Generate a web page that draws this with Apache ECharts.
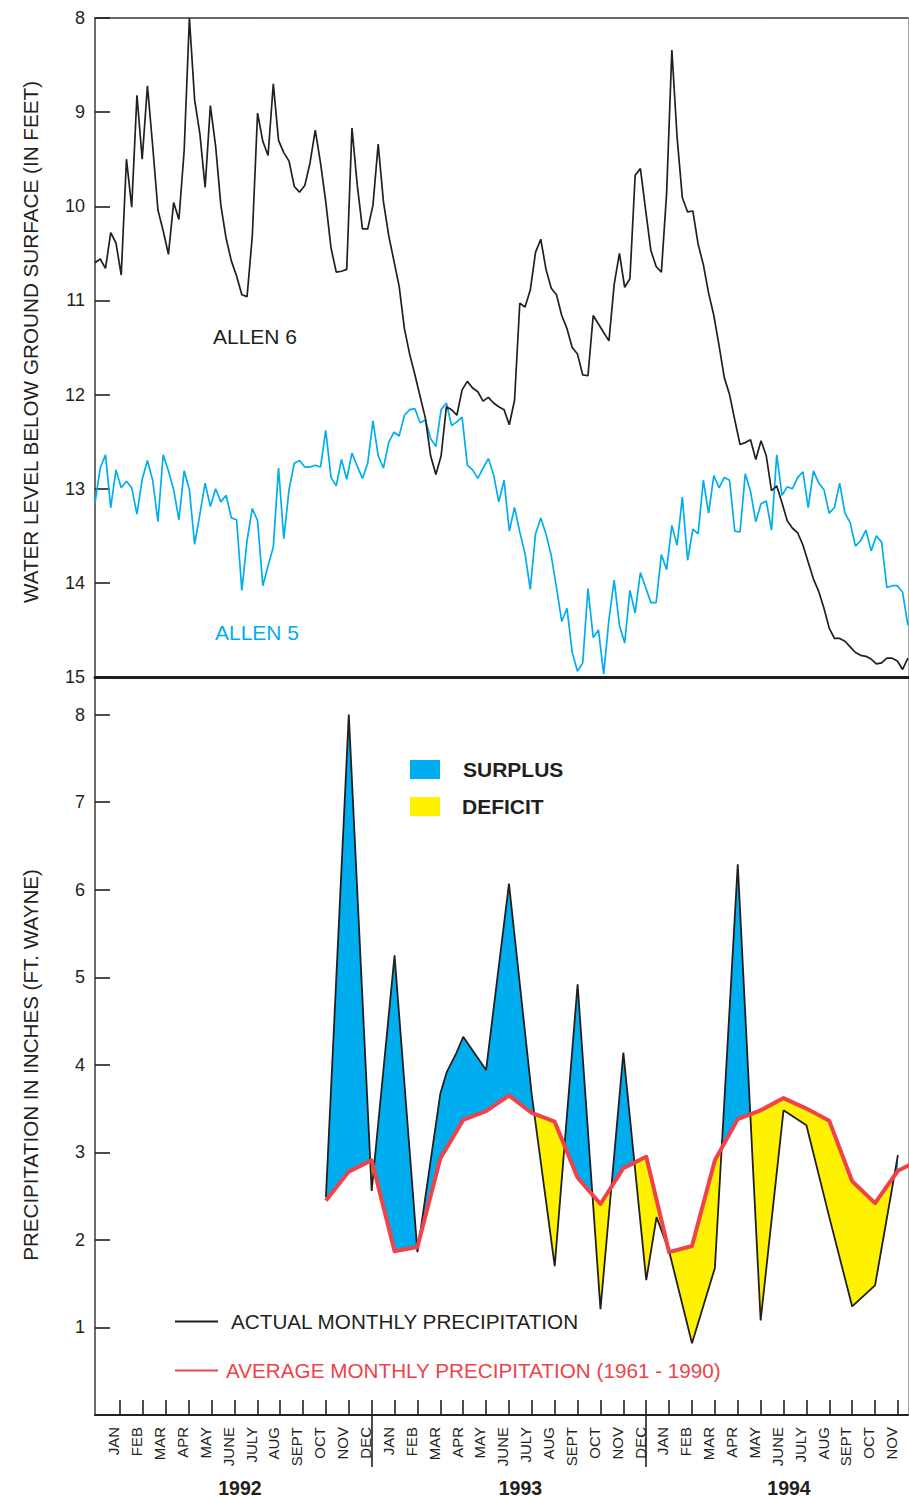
<!DOCTYPE html>
<html>
<head>
<meta charset="utf-8">
<title>Allen 5 / Allen 6 water levels and Ft. Wayne precipitation, 1992-1994</title>
<script src="https://cdn.jsdelivr.net/npm/echarts@6/dist/echarts.min.js"></script>
<style>
  html, body { margin: 0; padding: 0; background: #ffffff; }
  #chart { width: 909px; height: 1498px; }
</style>
</head>
<body>
<div id="chart"></div>
<script>
// ---- Weekly water-level readings (feet below ground surface) ----
// x is measured in months from January 1992 (0 = JAN 1992)
const WEEK_START = -1.092;      // first reading, early December 1991
const WEEK_STEP = 0.2292;       // one week in months

const allen6Level = [
  10.60,10.56,10.66,10.28,10.39,10.73,9.50,10.01,8.82,9.50,
  8.72,9.36,10.04,10.26,10.51,9.96,10.14,9.41,8.00,8.87,
  9.23,9.80,8.93,9.36,9.99,10.34,10.58,10.74,10.94,10.96,
  10.31,9.01,9.31,9.46,8.70,9.30,9.43,9.52,9.79,9.85,
  9.78,9.54,9.19,9.54,9.95,10.44,10.70,10.69,10.67,9.17,
  9.77,10.24,10.24,9.99,9.34,9.95,10.31,10.58,10.85,11.30,
  11.57,11.79,12.02,12.25,12.65,12.85,12.65,12.13,12.16,12.22,
  11.95,11.86,11.93,11.97,12.07,12.03,12.09,12.13,
  12.16,12.32,12.06,11.03,11.07,10.89,10.49,10.35,10.67,10.87,
  10.94,11.16,11.30,11.50,11.57,11.79,11.80,11.16,11.25,11.34,
  11.43,10.83,10.50,10.86,10.77,9.67,9.60,10.04,10.47,10.64,
  10.70,9.86,8.34,9.27,9.91,10.06,10.05,10.40,
  10.62,10.92,11.16,11.48,11.82,12.00,12.27,12.53,12.51,12.48,
  12.69,12.49,12.65,13.02,12.97,13.15,13.34,13.42,13.47,13.60,
  13.78,13.96,14.09,14.27,14.48,14.59,14.59,14.62,14.68,14.74,
  14.77,14.78,14.81,14.86,14.85,14.80,14.80,14.83,14.92,14.80
];

const allen5Level = [
  13.15,12.78,12.64,13.20,12.80,12.99,12.92,12.99,13.27,12.90,
  12.70,12.91,13.35,12.64,12.81,13.01,13.33,12.81,13.01,13.59,
  13.27,12.94,13.19,13.00,13.14,13.07,13.31,13.33,14.08,13.55,
  13.21,13.34,14.03,13.82,13.62,12.78,13.53,13.01,12.73,12.70,
  12.77,12.77,12.75,12.77,12.38,12.88,12.97,12.69,12.90,12.62,
  12.76,12.89,12.73,12.28,12.65,12.78,12.51,12.40,12.44,12.22,
  12.16,12.15,12.30,12.27,12.47,12.55,12.16,12.09,12.33,12.29,
  12.24,12.75,12.80,12.89,12.78,12.68,12.85,13.14,
  12.91,13.45,13.20,13.46,13.69,14.07,13.48,13.31,13.48,13.71,
  14.05,14.41,14.27,14.74,14.94,14.85,14.06,14.58,14.50,14.97,
  14.39,13.97,14.45,14.64,14.08,14.32,13.89,14.05,14.21,14.21,
  13.70,13.86,13.39,13.60,13.09,13.76,13.43,13.48,
  12.91,13.26,12.86,12.99,12.88,12.91,13.45,13.46,12.84,13.03,
  13.35,13.16,13.13,13.44,12.64,13.07,12.98,13.00,12.88,12.82,
  13.20,12.81,12.94,13.01,13.26,13.20,12.94,13.26,13.36,13.61,
  13.55,13.44,13.66,13.50,13.57,14.05,14.03,14.03,14.10,14.45
];

// ---- Monthly precipitation at Ft. Wayne (inches) ----
const actualMonth = [9,10,11,12,13,14,14.27,14.71,15,16,17,18,19,20,21,22,23,23.45,24,25,26,27,28,29,30,31,32,33,34];
const actualPrecip = [2.49,8.00,2.56,5.25,1.86,3.67,3.91,4.14,4.32,3.94,6.07,3.65,1.70,4.92,1.21,4.14,1.54,2.26,1.87,0.82,1.68,6.29,1.08,3.48,3.31,2.26,1.24,1.48,2.97];

const avgMonth = [9,10,11,12,13,14,15,16,17,18,19,20,21,22,23,24,25,26,27,28,29,30,31,32,33,34,35];
const avgPrecip = [2.45,2.78,2.91,1.87,1.92,2.93,3.37,3.47,3.65,3.45,3.35,2.71,2.41,2.82,2.95,1.86,1.93,2.91,3.38,3.48,3.62,3.50,3.36,2.67,2.42,2.79,2.92];

// ---- Axis ticks and labels ----
const MONTH_NAMES = ['JAN','FEB','MAR','APR','MAY','JUNE','JULY','AUG','SEPT','OCT','NOV','DEC'];
const monthTicks = [0,1,2,3,4,5,6,7,8,9,10,11,12,13,14,15,16,17,18,19,20,21,22,23,24,25,26,27,28,29,30,31,32,33,34];
const yearBreaks = [11, 23];
const YEARS = ['1992', '1993', '1994'];
const yearCenters = [5.24, 17.5, 29.24];
const levelTicks = [8, 9, 10, 11, 12, 13, 14, 15];
const precipTicks = [1, 2, 3, 4, 5, 6, 7, 8];

const X_MIN = -1.092, X_MAX = 34.44;
const LABEL_SHIFT = 0.27;

const INK = '#231f20';
const BLUE = '#00aeef';
const YELLOW = '#fff200';
const RED = '#ef4249';
const FONT = "'Liberation Sans', Arial, Helvetica, sans-serif";

// Linear interpolation along the average curve
function avgAt(m) {
  for (let i = 0; i < avgMonth.length - 1; i++) {
    if (m >= avgMonth[i] && m <= avgMonth[i + 1]) {
      const t = (m - avgMonth[i]) / (avgMonth[i + 1] - avgMonth[i]);
      return avgPrecip[i] + t * (avgPrecip[i + 1] - avgPrecip[i]);
    }
  }
  return avgPrecip[avgPrecip.length - 1];
}

// Split the area between actual and average into surplus / deficit polygons
function buildBands() {
  const out = [];
  let cur = null;
  const open = (x, a, b) => { cur = { top: [[x, a]], bot: [[x, b]], sign: 0 }; };
  open(actualMonth[0], actualPrecip[0], avgAt(actualMonth[0]));
  for (let i = 0; i < actualMonth.length - 1; i++) {
    const x0 = actualMonth[i], x1 = actualMonth[i + 1];
    const a0 = actualPrecip[i], a1 = actualPrecip[i + 1];
    const b0 = avgAt(x0), b1 = avgAt(x1);
    const d0 = a0 - b0, d1 = a1 - b1;
    if (cur.sign === 0 && d0 !== 0) cur.sign = Math.sign(d0);
    if (d0 * d1 < 0) {
      const t = d0 / (d0 - d1);
      const xc = x0 + t * (x1 - x0), yc = a0 + t * (a1 - a0);
      cur.top.push([xc, yc]); cur.bot.push([xc, yc]);
      out.push(cur);
      open(xc, yc, yc);
      cur.sign = Math.sign(d1);
    }
    cur.top.push([x1, a1]); cur.bot.push([x1, b1]);
    if (cur.sign === 0 && d1 !== 0) cur.sign = Math.sign(d1);
  }
  out.push(cur);
  return out.map(p => ({ sign: p.sign, pts: p.top.concat(p.bot.slice().reverse()) }));
}
const bands = buildBands();
const surplusBands = bands.filter(b => b.sign > 0);
const deficitBands = bands.filter(b => b.sign < 0);

function bandSeries(name, list, color) {
  return {
    name: name,
    type: 'custom',
    xAxisIndex: 2, yAxisIndex: 2,
    z: 1,
    itemStyle: { color: color },
    encode: { x: 0, y: 1 },
    data: list.map(b => b.pts[0]),
    renderItem: (params, api) => {
      const b = list[params.dataIndex];
      return {
        type: 'polygon',
        shape: { points: b.pts.map(p => api.coord(p)) },
        style: { fill: color, stroke: null }
      };
    }
  };
}

const weekly = arr => arr.map((v, i) => [WEEK_START + i * WEEK_STEP, v]);
const paired = (xs, ys) => xs.map((x, i) => [x, ys[i]]);

const chart = echarts.init(document.getElementById('chart'), null, { renderer: 'svg' });

const option = {
  backgroundColor: '#ffffff',
  animation: false,
  textStyle: { fontFamily: FONT },
  grid: [
    { left: 95, top: 18, width: 813, height: 659 },
    { left: 95, top: 677, width: 813, height: 738 }
  ],
  xAxis: [
    { // water-level panel: heavy base line
      type: 'value', gridIndex: 0, position: 'bottom', min: X_MIN, max: X_MAX,
      axisLine: { show: true, onZero: false, lineStyle: { color: INK, width: 3 } },
      axisTick: { show: false }, axisLabel: { show: false }, splitLine: { show: false }
    },
    { // water-level panel: top frame
      type: 'value', gridIndex: 0, position: 'top', min: X_MIN, max: X_MAX,
      axisLine: { show: true, onZero: false, lineStyle: { color: '#3a3a3a', width: 1.5 } },
      axisTick: { show: false }, axisLabel: { show: false }, splitLine: { show: false }
    },
    { // precipitation panel: month axis
      type: 'value', gridIndex: 1, position: 'bottom', min: X_MIN, max: X_MAX,
      axisLine: { show: true, onZero: false, lineStyle: { color: INK, width: 2 } },
      axisTick: { show: true, inside: true, length: 15, customValues: monthTicks, lineStyle: { color: INK, width: 1.6 } },
      axisLabel: {
        show: true, rotate: 90, margin: 12, fontSize: 15, color: INK, fontFamily: FONT,
        customValues: monthTicks.map(m => m - LABEL_SHIFT),
        formatter: v => MONTH_NAMES[((Math.round(v + LABEL_SHIFT) % 12) + 12) % 12]
      },
      splitLine: { show: false }
    },
    { // year separators
      type: 'value', gridIndex: 1, position: 'bottom', min: X_MIN, max: X_MAX,
      axisLine: { show: false },
      axisTick: { show: true, inside: false, length: 52, customValues: yearBreaks, lineStyle: { color: INK, width: 1.6 } },
      axisLabel: { show: false }, splitLine: { show: false }
    },
    { // year labels
      type: 'value', gridIndex: 1, position: 'bottom', min: X_MIN, max: X_MAX,
      axisLine: { show: false }, axisTick: { show: false },
      axisLabel: {
        show: true, margin: 63, fontSize: 19.5, fontWeight: 'bold', color: INK, fontFamily: FONT,
        customValues: yearCenters,
        formatter: v => YEARS[yearCenters.indexOf(v)] || ''
      },
      splitLine: { show: false }
    }
  ],
  yAxis: [
    { // water level, feet below surface
      type: 'value', gridIndex: 0, position: 'left', inverse: true, min: 8, max: 15, interval: 1,
      axisLine: { show: true, onZero: false, lineStyle: { color: '#3a3a3a', width: 1.5 } },
      axisTick: { show: true, inside: true, length: 15, customValues: levelTicks, lineStyle: { color: INK, width: 1.6 } },
      axisLabel: { show: true, margin: 10, fontSize: 18, color: INK, fontFamily: FONT, customValues: levelTicks },
      splitLine: { show: false }
    },
    { // right frame
      type: 'value', gridIndex: 0, position: 'right', min: 8, max: 15,
      axisLine: { show: true, onZero: false, lineStyle: { color: '#a8a8a8', width: 1 } },
      axisTick: { show: false }, axisLabel: { show: false }, splitLine: { show: false }
    },
    { // precipitation, inches
      type: 'value', gridIndex: 1, position: 'left', min: 0, max: 8.43,
      axisLine: { show: true, onZero: false, lineStyle: { color: '#3a3a3a', width: 1.5 } },
      axisTick: { show: true, inside: true, length: 15, customValues: precipTicks, lineStyle: { color: INK, width: 1.6 } },
      axisLabel: { show: true, margin: 10, fontSize: 18, color: INK, fontFamily: FONT, customValues: precipTicks },
      splitLine: { show: false }
    },
    { // right frame
      type: 'value', gridIndex: 1, position: 'right', min: 0, max: 8.43,
      axisLine: { show: true, onZero: false, lineStyle: { color: '#a8a8a8', width: 1 } },
      axisTick: { show: false }, axisLabel: { show: false }, splitLine: { show: false }
    }
  ],
  legend: [
    {
      orient: 'vertical', left: 410, top: 759, padding: 0, itemWidth: 30, itemHeight: 19, itemGap: 16,
      icon: 'rect', selectedMode: false,
      textStyle: { fontFamily: FONT, fontSize: 21, fontWeight: 'bold', color: INK, padding: [0, 0, 0, 18], lineHeight: 19 },
      data: [
        { name: 'SURPLUS' },
        { name: 'DEFICIT', textStyle: { padding: [0, 0, 0, 17] } }
      ]
    },
    {
      orient: 'vertical', left: 175, top: 1311, padding: 0, itemWidth: 43, itemHeight: 2, itemGap: 28,
      icon: 'rect', selectedMode: false,
      textStyle: { fontFamily: FONT, fontSize: 20.7, color: INK, lineHeight: 20, padding: [0, 0, 0, 8] },
      data: [
        { name: 'ACTUAL MONTHLY PRECIPITATION', itemStyle: { color: INK }, textStyle: { color: INK, padding: [0, 0, 0, 8] } },
        { name: 'AVERAGE MONTHLY PRECIPITATION (1961 - 1990)', itemStyle: { color: RED }, textStyle: { color: RED, padding: [0, 0, 0, 3] } }
      ]
    }
  ],
  graphic: [
    {
      type: 'text', x: 30, y: 342, rotation: Math.PI / 2,
      style: { text: 'WATER LEVEL BELOW GROUND SURFACE (IN FEET)', fill: INK, font: "20.7px " + FONT, align: 'center', verticalAlign: 'middle' }
    },
    {
      type: 'text', x: 30, y: 1065, rotation: Math.PI / 2,
      style: { text: 'PRECIPITATION IN INCHES (FT. WAYNE)', fill: INK, font: "20.6px " + FONT, align: 'center', verticalAlign: 'middle' }
    },
    {
      type: 'text', x: 213, y: 336,
      style: { text: 'ALLEN 6', fill: INK, font: "21px " + FONT, align: 'left', verticalAlign: 'middle' }
    },
    {
      type: 'text', x: 215, y: 632,
      style: { text: 'ALLEN 5', fill: BLUE, font: "21px " + FONT, align: 'left', verticalAlign: 'middle' }
    }
  ],
  series: [
    {
      name: 'ALLEN 6', type: 'line', xAxisIndex: 0, yAxisIndex: 0,
      data: weekly(allen6Level), symbol: 'none', z: 3,
      lineStyle: { color: INK, width: 1.7 }, itemStyle: { color: INK }
    },
    {
      name: 'ALLEN 5', type: 'line', xAxisIndex: 0, yAxisIndex: 0,
      data: weekly(allen5Level), symbol: 'none', z: 2,
      lineStyle: { color: BLUE, width: 1.7 }, itemStyle: { color: BLUE }
    },
    bandSeries('SURPLUS', surplusBands, BLUE),
    bandSeries('DEFICIT', deficitBands, YELLOW),
    {
      name: 'ACTUAL MONTHLY PRECIPITATION', type: 'line', xAxisIndex: 2, yAxisIndex: 2,
      data: paired(actualMonth, actualPrecip), symbol: 'none', z: 3,
      lineStyle: { color: INK, width: 1.8 }, itemStyle: { color: INK }
    },
    {
      name: 'AVERAGE MONTHLY PRECIPITATION (1961 - 1990)', type: 'line', xAxisIndex: 2, yAxisIndex: 2,
      data: paired(avgMonth, avgPrecip), symbol: 'none', z: 4, clip: true,
      lineStyle: { color: RED, width: 4, join: 'round' }, itemStyle: { color: RED }
    }
  ]
};

chart.setOption(option);
</script>
</body>
</html>
